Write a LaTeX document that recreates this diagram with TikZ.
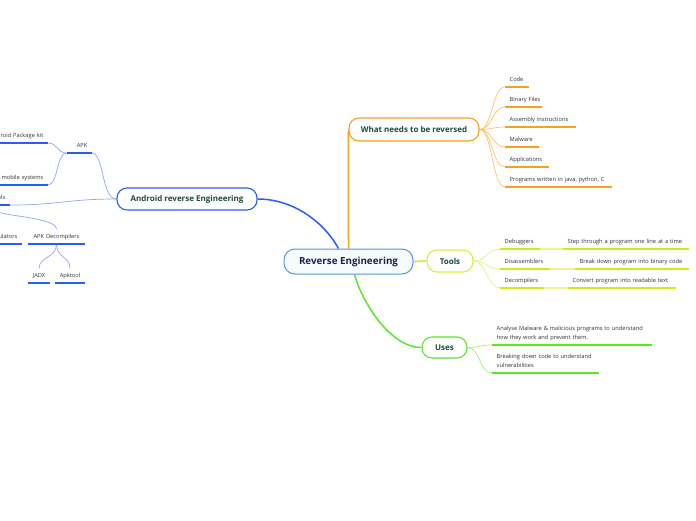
\documentclass[tikz,border=0pt]{standalone}
\usepackage{fontspec}
\setmainfont{Open Sans}
\pgfdeclarelayer{paper}
\pgfdeclarelayer{links}
\pgfsetlayers{paper,links,main}
\definecolor{cOr}{HTML}{F7A21B}
\definecolor{cOrL}{HTML}{FAC373}
\definecolor{cLi}{HTML}{C9EE1F}
\definecolor{cLiL}{HTML}{E4F79A}
\definecolor{cLiB}{HTML}{D0F040}
\definecolor{cGr}{HTML}{5BE628}
\definecolor{cGrL}{HTML}{A4F080}
\definecolor{cBl}{HTML}{2A5EF2}
\definecolor{cBlL}{HTML}{8EA8F2}
\definecolor{cCe}{HTML}{4E98D6}
\definecolor{cTx}{HTML}{1C4A3C}
\definecolor{cCeTx}{HTML}{13254F}
\definecolor{cLeaf}{HTML}{333333}
\tikzset{
  topic/.style={draw, line width=1.1pt, rounded corners=10pt, fill=white, text=cTx,
    font=\bfseries\fontsize{8}{9}\selectfont, inner sep=0pt},
  leaf/.style={inner xsep=4.5pt, inner ysep=5pt, text depth=0pt, text=cLeaf,
    font=\fontsize{5.7}{9}\selectfont},
  leafR/.style={leaf, anchor=south west, align=left},
  leafL/.style={leaf, anchor=south east, align=right},
  leafC/.style={leaf, anchor=south, align=center},
  twoline/.style={text depth=9pt},
  brO/.style={cOr, line width=1.5pt},
  brB/.style={cBl, line width=1.5pt},
  brG/.style={cGr, line width=1.5pt},
  brL/.style={cLi, line width=1.5pt},
  ulO/.style={cOr, line width=1.6pt},
  ulB/.style={cBl, line width=1.6pt},
  ulG/.style={cGr, line width=1.6pt},
  ulL/.style={cLi, line width=1.6pt},
  ulLL/.style={cLiL, line width=1.6pt},
  lnO/.style={cOrL, line width=0.7pt},
  lnB/.style={cBlL, line width=0.7pt},
  lnG/.style={cGrL, line width=0.7pt},
  lnL/.style={cLiL!80!cLi, line width=0.7pt},
}
\begin{document}
\begin{tikzpicture}[x=1pt,y=-1pt]
\begin{pgfonlayer}{paper}
\fill[white] (0,0) rectangle (696,520);
\end{pgfonlayer}
\useasboundingbox (0,0) rectangle (696,520);

% main topics
\node[topic, draw=cCe, line width=1pt, fill=cCe!4, minimum width=129pt, minimum height=25pt,
  rounded corners=11pt, text=cCeTx, font=\bfseries\fontsize{9.8}{11}\selectfont] (re) at (348.5,261.5) {Reverse Engineering};
\node[topic, draw=cOr, minimum width=130pt, minimum height=23pt] (what) at (414,129.5) {What needs to be reversed};
\node[topic, draw=cBl, minimum width=140pt, minimum height=22pt] (and) at (187,199) {Android reverse Engineering};
\node[topic, draw=cLiB, minimum width=46pt, minimum height=22pt] (tools) at (450,261) {Tools};
\node[topic, draw=cGr, minimum width=45pt, minimum height=21pt] (uses) at (444.5,347.5) {Uses};

% leaves: what needs to be reversed
\node[leafR, text width=15pt] (code) at (505,87) {\mbox{Code}};
\node[leafR, text width=28pt] (bin) at (505,107) {\mbox{Binary Files}};
\node[leafR, text width=62pt] (asm) at (505,127) {\mbox{Assembly instructions}};
\node[leafR, text width=25pt] (mal) at (505,147) {\mbox{Malware}};
\node[leafR, text width=35pt] (app) at (505,167) {\mbox{Applications}};
\node[leafR, text width=98pt] (prog) at (505,187) {\mbox{Programs written in java, python, C}};

% leaves: tools
\node[leafR, text width=31pt] (deb) at (500,249) {\mbox{Debuggers}};
\node[leafR, text width=117pt] (debd) at (563,249) {\mbox{Step through a program one line at a time}};
\node[leafR, text width=41pt] (dis) at (500,269) {\mbox{Disassemblers}};
\node[leafR, text width=105pt] (disd) at (575,269) {\mbox{Break down program into binary code}};
\node[leafR, text width=35pt] (dec) at (500,288) {\mbox{Decompilers}};
\node[leafR, text width=99pt] (decd) at (568,288) {\mbox{Convert program into readable text}};

% leaves: uses
\node[leafR, twoline, text width=151pt] (an) at (492,345) {Analyse Malware \& malicious programs to understand\\how they work and prevent them.};
\node[leafR, twoline, text width=98pt] (br) at (492,373) {Breaking down code to understand\\vulnerabilities};

% leaves: android
\node[leafL, text width=80pt] (pkg) at (48,143) {\mbox{Android Package kit}};
\node[leafL, text width=80pt] (mob) at (48,185) {\mbox{mobile systems}};
\node[leafL, text width=16pt] (apk) at (92,153) {\mbox{APK}};
\node[leafL, text width=40pt] (tls) at (10,205) {\mbox{Tools}};
\node[leafL, text width=40pt] (emu) at (22,244) {\mbox{Emulators}};
\node[leafC, text width=48pt] (apkd) at (56.5,244) {\mbox{APK Decompilers}};
\node[leafC, text width=13pt] (jadx) at (39,283) {\mbox{JADX}};
\node[leafC, text width=21pt] (apkt) at (70,283) {\mbox{Apktool}};

% underlines
\foreach \n in {code,bin,asm,mal,app,prog} \draw[ulO] (\n.south west) -- (\n.south east);
\foreach \n in {deb,debd,dis,disd,dec,decd} \draw[ulL] (\n.south west) -- (\n.south east);
\foreach \n in {an,br} \draw[ulG] (\n.south west) -- (\n.south east);
\foreach \n in {pkg,mob,apk,tls,emu,apkd,jadx,apkt} \draw[ulB] (\n.south west) -- (\n.south east);
\draw[ulLL] (deb.south east) -- (debd.south west);
\draw[ulLL] (dis.south east) -- (disd.south west);
\draw[ulLL] (dec.south east) -- (decd.south west);

\begin{pgfonlayer}{links}
% main branches
\draw[brO] (re.north) -- ([yshift=-8pt]what.west) .. controls (what.west) .. ([xshift=3pt]what.west);
\draw[brB] (and.east) .. controls +(38,0) and +(-13,-24) .. ([xshift=-10pt]re.north);
\draw[brG] ([xshift=6pt]re.south) .. controls +(7,26) and +(-32,0) .. (uses.west);
\draw[brL] (re.east) -- (tools.west);

% leaf connectors
\foreach \n in {code,bin,asm,mal,app,prog}
  \draw[lnO] (what.east) .. controls +(13,0) and +(-13,0) .. (\n.south west);
\foreach \n in {deb,dis,dec}
  \draw[lnL] (tools.east) .. controls +(13,0) and +(-13,0) .. (\n.south west);
\foreach \n in {an,br}
  \draw[lnG] (uses.east) .. controls +(13,0) and +(-13,0) .. (\n.south west);
\draw[lnB] (and.west) .. controls +(-15,0) and +(12,0) .. (apk.south east);
\draw[lnB] (and.west) .. controls +(-50,0) and +(50,0) .. (tls.south east);
\draw[lnB] (apk.south west) .. controls +(-10,0) and +(10,0) .. (pkg.south east);
\draw[lnB] (apk.south west) .. controls +(-10,0) and +(10,0) .. (mob.south east);
\draw[lnB] (tls.south) .. controls +(0,12) and +(0,-14) .. (apkd.north);
\draw[lnB] (tls.south) .. controls +(0,10) and +(0,-10) .. (emu.north);
\draw[lnB] (apkd.south) .. controls +(0,14) and +(0,-12) .. (jadx.north);
\draw[lnB] (apkd.south) .. controls +(0,14) and +(0,-12) .. (apkt.north);
\end{pgfonlayer}
\end{tikzpicture}
\end{document}
